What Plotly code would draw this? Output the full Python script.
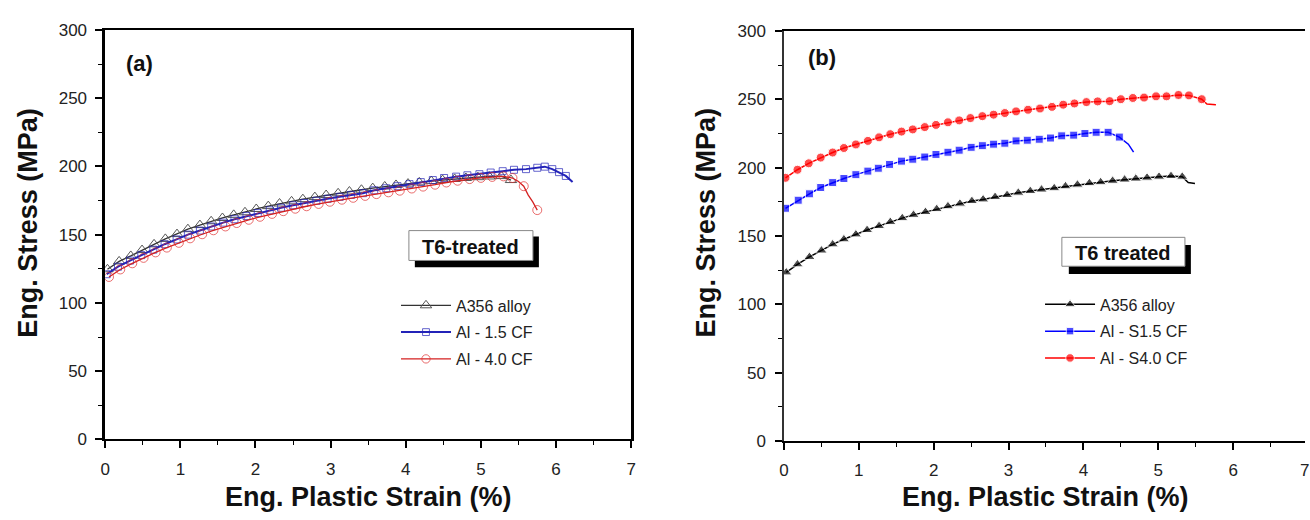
import plotly.graph_objects as go

# ---------------- data: panel (a) ----------------
a_black_x = [0.03, 0.185, 0.34, 0.49, 0.65, 0.80, 0.955, 1.10, 1.26, 1.41, 1.56, 1.71, 1.86, 2.01, 2.17, 2.32, 2.48, 2.63,
             2.79, 2.94, 3.10, 3.25, 3.41, 3.56, 3.72, 3.87, 4.03, 4.18, 4.34, 4.49, 4.65, 4.80, 4.96, 5.11, 5.27, 5.40]
a_black_y = [124.6, 130.4, 134.4, 138.7, 142.9, 146.9, 150.4, 154.0, 157.0, 159.8, 162.2, 164.5, 166.4, 168.8, 170.9, 172.8,
             174.4, 176.0, 177.5, 179.0, 180.3, 181.6, 182.9, 184.1, 185.3, 186.4, 187.4, 188.3, 189.2, 190.0, 190.8, 191.5,
             192.1, 192.6, 192.9, 190.0]

a_blue_x = [0.02, 0.17, 0.33, 0.48, 0.64, 0.79, 0.95, 1.10, 1.26, 1.41, 1.57, 1.72, 1.88, 2.03, 2.19, 2.34, 2.50, 2.65,
            2.81, 2.96, 3.12, 3.27, 3.43, 3.58, 3.74, 3.89, 4.05, 4.20, 4.36, 4.51, 4.67, 4.82, 4.98, 5.13, 5.29, 5.44,
            5.60, 5.75, 5.85, 5.95, 6.04, 6.13, 6.22]
a_blue_y = [121.0, 126.5, 131.0, 135.0, 139.0, 143.0, 146.5, 150.0, 153.0, 156.0, 158.8, 161.3, 163.6, 165.8, 167.8, 169.7,
            171.5, 173.2, 174.8, 176.3, 177.7, 179.1, 180.4, 182.5, 184.0, 185.5, 187.0, 188.5, 190.0, 191.5, 192.5, 193.5,
            194.3, 195.5, 196.5, 197.5, 198.0, 199.0, 199.8, 198.0, 195.8, 193.0, 188.5]

a_red_x = [0.05, 0.20, 0.36, 0.51, 0.67, 0.82, 0.98, 1.13, 1.29, 1.44, 1.60, 1.75, 1.91, 2.06, 2.22, 2.37, 2.53, 2.68,
           2.84, 2.99, 3.15, 3.30, 3.46, 3.61, 3.77, 3.92, 4.08, 4.23, 4.39, 4.54, 4.69, 4.85, 5.00, 5.15, 5.30, 5.42,
           5.50, 5.57, 5.63, 5.69, 5.75]
a_red_y = [119.0, 124.5, 129.0, 133.0, 137.0, 140.5, 144.0, 147.3, 150.3, 153.2, 156.0, 158.5, 160.9, 163.1, 165.2, 167.2,
           169.0, 170.8, 172.5, 174.1, 175.6, 177.0, 178.4, 179.7, 181.0, 182.2, 183.8, 185.2, 186.6, 188.2, 189.5, 190.7,
           191.6, 192.3, 192.7, 191.5, 189.0, 185.5, 179.0, 174.0, 168.0]

# ---------------- data: panel (b) ----------------
b_black_x = [0.03, 0.18, 0.34, 0.50, 0.65, 0.80, 0.96, 1.11, 1.27, 1.42, 1.58, 1.73, 1.89, 2.04, 2.19, 2.35, 2.51, 2.66,
             2.82, 2.98, 3.13, 3.29, 3.44, 3.61, 3.76, 3.92, 4.08, 4.23, 4.39, 4.55, 4.70, 4.85, 5.01, 5.17, 5.32, 5.40, 5.49]
b_black_y = [123.3, 129.2, 134.6, 139.3, 143.8, 147.5, 151.1, 154.3, 157.2, 160.2, 163.0, 165.4, 167.5, 169.6, 171.7, 173.6,
             175.5, 176.7, 178.5, 179.9, 181.6, 182.8, 183.9, 184.9, 186.3, 187.5, 188.6, 189.3, 190.3, 191.2, 191.9, 192.6,
             193.3, 193.8, 193.3, 189.1, 188.4]

b_blue_x = [0.02, 0.19, 0.34, 0.49, 0.65, 0.80, 0.96, 1.12, 1.26, 1.41, 1.57, 1.72, 1.88, 2.03, 2.19, 2.34, 2.50, 2.65,
            2.80, 2.95, 3.10, 3.25, 3.41, 3.56, 3.71, 3.87, 4.02, 4.17, 4.33, 4.48, 4.60, 4.67]
b_blue_y = [170.2, 176.1, 180.8, 185.4, 189.0, 192.0, 194.8, 197.4, 199.5, 202.3, 204.7, 206.1, 207.7, 209.6, 211.2, 212.7,
            214.8, 216.0, 217.1, 217.8, 219.5, 220.0, 220.7, 221.6, 223.2, 223.7, 224.9, 225.8, 225.8, 222.3, 217.1, 211.3]

b_red_x = [0.02, 0.18, 0.33, 0.49, 0.65, 0.80, 0.96, 1.12, 1.27, 1.42, 1.57, 1.72, 1.88, 2.03, 2.19, 2.34, 2.49, 2.65,
           2.80, 2.95, 3.10, 3.26, 3.42, 3.58, 3.73, 3.88, 4.04, 4.19, 4.35, 4.50, 4.66, 4.81, 4.97, 5.11, 5.27, 5.41,
           5.58, 5.65, 5.77]
b_red_y = [192.5, 198.4, 203.1, 207.3, 211.0, 214.3, 216.9, 219.5, 222.1, 224.4, 226.3, 227.9, 229.6, 231.2, 233.1, 234.5,
           236.2, 237.6, 238.7, 239.9, 241.1, 242.3, 243.2, 244.4, 246.0, 246.9, 247.9, 248.4, 248.6, 250.0, 250.9, 251.2,
           252.1, 252.1, 253.1, 252.8, 250.0, 246.5, 246.0]

names_a = ["A356 alloy", "Al - 1.5 CF", "Al - 4.0 CF"]
names_b = ["A356 alloy", "Al - S1.5 CF", "Al - S4.0 CF"]
x_ticks = [0, 1, 2, 3, 4, 5, 6, 7]
y_ticks = [0, 50, 100, 150, 200, 250, 300]

# ---------------- layout helpers (pixel -> paper) ----------------
W, H = 1310, 520
def px(x):
    return x / W
def py(y):
    return 1 - y / H

FONT = "Liberation Sans, Arial, sans-serif"

def sizes(n, size, hidden):
    return [0 if i in hidden else size for i in range(n)]

fig = go.Figure()

# panel (a)
fig.add_trace(go.Scatter(x=a_black_x, y=a_black_y, name=names_a[0], mode="lines+markers",
                         line=dict(color="#333333", width=1.3),
                         marker=dict(symbol="triangle-up-open", size=10, color="#555555", line=dict(width=1)),
                         legendgroup="a1", legend="legend", xaxis="x", yaxis="y"))
fig.add_trace(go.Scatter(x=a_blue_x, y=a_blue_y, name=names_a[1], mode="lines+markers",
                         line=dict(color="#2323b8", width=2),
                         marker=dict(symbol="square-open", size=sizes(len(a_blue_x), 7, {len(a_blue_x) - 1}),
                                     color="#2323b8", line=dict(width=1)),
                         legendgroup="a2", legend="legend", xaxis="x", yaxis="y"))
fig.add_trace(go.Scatter(x=a_red_x, y=a_red_y, name=names_a[2], mode="lines+markers",
                         line=dict(color="#d42020", width=1.3),
                         marker=dict(symbol="circle-open", size=sizes(len(a_red_x), 9, {36, 38, 39}),
                                     color="#e03030", line=dict(width=1)),
                         legendgroup="a3", legend="legend", xaxis="x", yaxis="y"))

# panel (b)
nb = len(b_black_x)
fig.add_trace(go.Scatter(x=b_black_x, y=b_black_y, name=names_b[0], mode="lines+markers",
                         line=dict(color="#000000", width=1.5),
                         marker=dict(symbol="triangle-up", size=sizes(nb, 10, {nb - 1, nb - 2}), color="#000000"),
                         legendgroup="b1", legend="legend2", xaxis="x2", yaxis="y2"))
nb = len(b_blue_x)
fig.add_trace(go.Scatter(x=b_blue_x, y=b_blue_y, name=names_b[1], mode="lines+markers",
                         line=dict(color="#0000ff", width=1.5),
                         marker=dict(symbol="square", size=sizes(nb, 8, {nb - 1, nb - 2}), color="#0000ff"),
                         legendgroup="b2", legend="legend2", xaxis="x2", yaxis="y2"))
nb = len(b_red_x)
fig.add_trace(go.Scatter(x=b_red_x, y=b_red_y, name=names_b[2], mode="lines+markers",
                         line=dict(color="#ff0000", width=1.5),
                         marker=dict(symbol="circle", size=sizes(nb, 9, {nb - 1, nb - 2}), color="#ff0000"),
                         legendgroup="b3", legend="legend2", xaxis="x2", yaxis="y2"))

def axis(lw, lc="black", standoff=5):
    return dict(showline=True, linecolor=lc, linewidth=lw, ticks="outside", ticklen=7, tickwidth=1.5,
                tickcolor="black", showgrid=False, zeroline=False, ticklabelstandoff=standoff,
                tickfont=dict(family=FONT, size=17, color="#222222"))

minor_x = dict(dtick=0.5, ticks="outside", ticklen=4, tickwidth=1.3, tickcolor="black")
minor_y = dict(dtick=25, ticks="outside", ticklen=4, tickwidth=1.3, tickcolor="black")

fig.update_layout(
    width=W, height=H, margin=dict(l=0, r=0, t=0, b=0),
    plot_bgcolor="white", paper_bgcolor="white",
    xaxis=dict(domain=[px(101), px(631)], range=[0, 7], tickvals=x_ticks, mirror=True,
               minor=minor_x, anchor="y", **axis(2, standoff=6)),
    yaxis=dict(domain=[py(446.7), py(21.7)], range=[0, 300], tickvals=y_ticks, mirror=True,
               minor=minor_y, anchor="x", **axis(2.5, standoff=5)),
    xaxis2=dict(domain=[px(785), 1.0], range=[0, (W - 785) / 75.43], tickvals=x_ticks, mirror=True,
                minor=minor_x, anchor="y2", **axis(1.8, standoff=6)),
    yaxis2=dict(domain=[py(448.3), py(22.7)], range=[0, 300], tickvals=y_ticks, mirror=False,
                minor=minor_y, anchor="x2", **axis(1.5, lc="#333333", standoff=6)),
    legend=dict(x=px(394), y=py(290), xanchor="left", yanchor="top", bgcolor="rgba(0,0,0,0)",
                font=dict(family=FONT, size=16, color="#222222"), tracegroupgap=3, itemwidth=50),
    legend2=dict(x=px(1043), y=py(289), xanchor="left", yanchor="top", bgcolor="rgba(0,0,0,0)",
                 font=dict(family=FONT, size=16, color="#222222"), tracegroupgap=3, itemwidth=50),
)

# shadowed label boxes
shapes = [
    dict(type="rect", xref="paper", yref="paper", x0=px(413), x1=px(538), y0=py(268), y1=py(236),
         fillcolor="black", line=dict(width=0)),
    dict(type="rect", xref="paper", yref="paper", x0=px(407), x1=px(532), y0=py(261), y1=py(230),
         fillcolor="white", line=dict(color="#888888", width=1)),
    dict(type="rect", xref="paper", yref="paper", x0=px(1072), x1=px(1195), y0=py(275), y1=py(245),
         fillcolor="black", line=dict(width=0)),
    dict(type="rect", xref="paper", yref="paper", x0=px(1065), x1=px(1189), y0=py(267), y1=py(237),
         fillcolor="white", line=dict(color="#888888", width=1)),
]
fig.update_layout(shapes=shapes)

def ann(text, x, y, size, bold=True, angle=0, xanchor="center", color="#111111"):
    t = f"<b>{text}</b>" if bold else text
    return dict(text=t, x=px(x), y=py(y), xref="paper", yref="paper", xanchor=xanchor, yanchor="middle",
                showarrow=False, textangle=angle, font=dict(family=FONT, size=size, color=color))

annotations = [
    ann("Eng. Plastic Strain (%)", 366, 506, 27),
    ann("Eng. Plastic Strain (%)", 1049, 507, 27),
    ann("Eng. Stress (MPa)", 23, 222, 27, angle=-90),
    ann("Eng. Stress (MPa)", 706, 222, 27, angle=-90),
    ann("(a)", 136, 57, 22),
    ann("(b)", 823, 50, 22),
    ann("T6-treated", 469, 247, 20),
    ann("T6 treated", 1127, 253, 20),
    ann("7", 1303, 479, 17, bold=False, color="#222222", xanchor="left"),
]
fig.update_layout(annotations=annotations)

fig.write_html("out.html", config={"displayModeBar": False},
               post_script="document.body.style.margin='0';")
